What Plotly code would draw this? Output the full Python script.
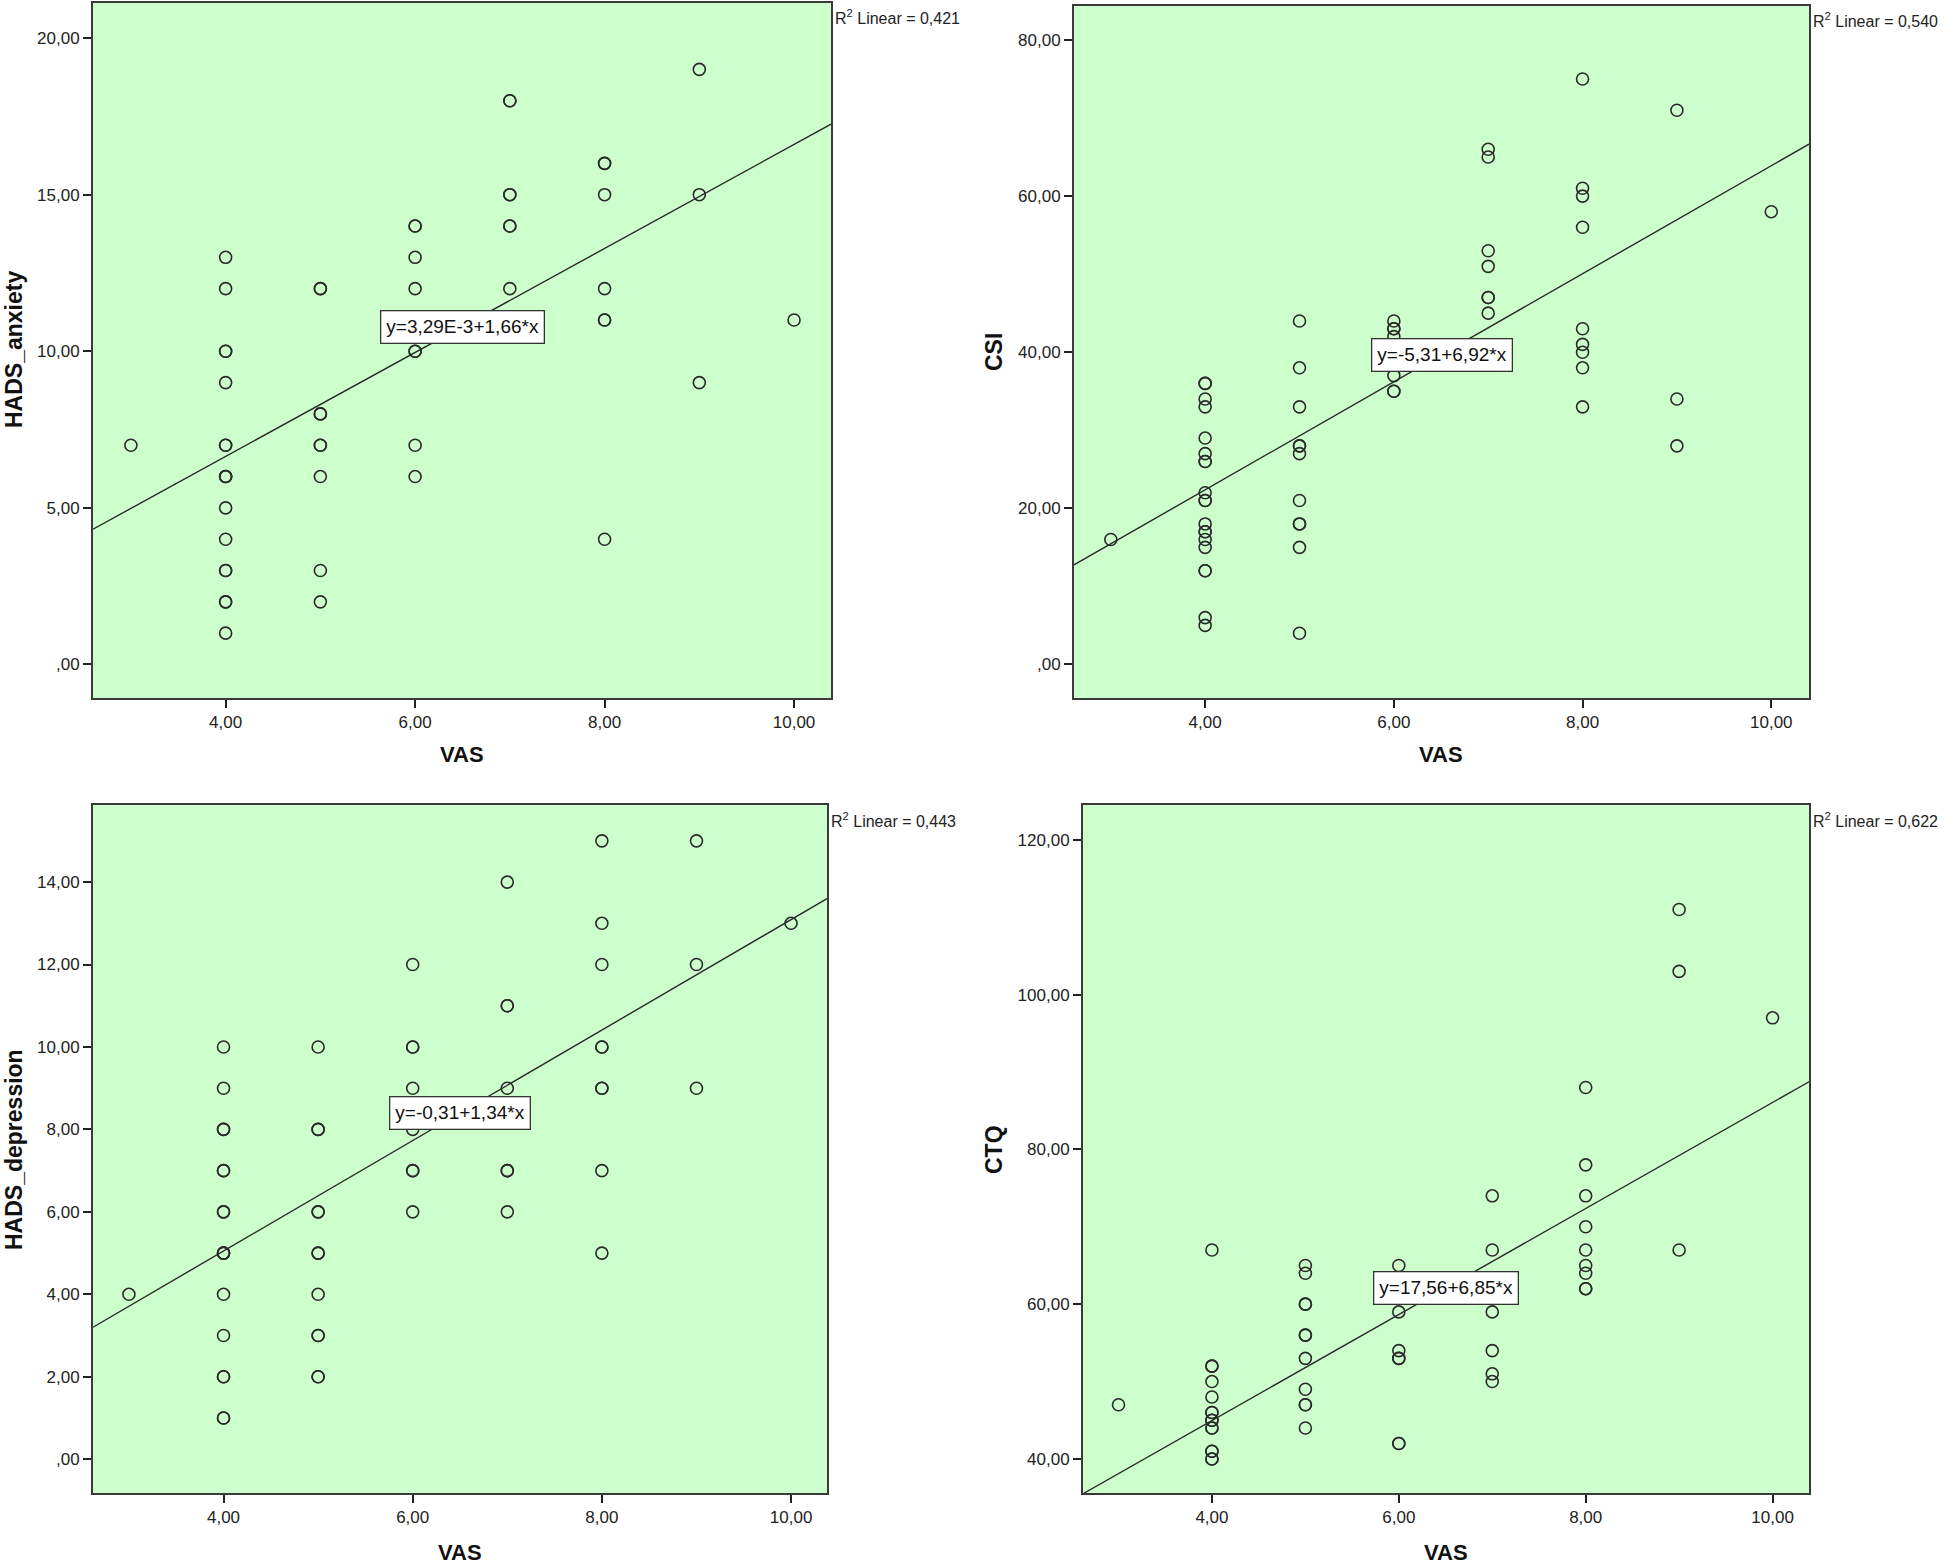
import plotly.graph_objects as go

# ---------------- data ----------------
vas_anx = [3,
           4, 4, 4, 4, 4, 4, 4, 4, 4, 4, 4, 4, 4, 4, 4, 4, 4,
           5, 5, 5, 5, 5, 5, 5, 5, 5,
           6, 6, 6, 6, 6, 6, 6, 6,
           7, 7, 7, 7, 7, 7, 7,
           8, 8, 8, 8, 8, 8, 8,
           9, 9, 9,
           10]
hads_anxiety = [7,
                13, 12, 10, 10, 9, 7, 7, 6, 6, 6, 5, 4, 3, 3, 2, 2, 1,
                12, 12, 8, 8, 7, 7, 6, 3, 2,
                14, 14, 13, 12, 10, 10, 7, 6,
                18, 18, 15, 15, 14, 14, 12,
                16, 16, 15, 12, 11, 11, 4,
                19, 15, 9,
                11]

vas_csi = [3,
           4, 4, 4, 4, 4, 4, 4, 4, 4, 4, 4, 4, 4, 4, 4, 4, 4, 4, 4, 4,
           5, 5, 5, 5, 5, 5, 5, 5, 5, 5, 5,
           6, 6, 6, 6, 6, 6, 6,
           7, 7, 7, 7, 7, 7, 7,
           8, 8, 8, 8, 8, 8, 8, 8, 8,
           9, 9, 9,
           10]
csi = [16,
       36, 36, 34, 33, 29, 27, 26, 26, 22, 21, 21, 18, 17, 17, 16, 15, 12, 12, 6, 5,
       44, 38, 33, 28, 28, 27, 21, 18, 18, 15, 4,
       44, 43, 43, 42, 37, 35, 35,
       66, 65, 53, 51, 47, 47, 45,
       75, 61, 60, 56, 43, 41, 40, 38, 33,
       71, 34, 28,
       58]

vas_dep = [3,
           4, 4, 4, 4, 4, 4, 4, 4, 4, 4, 4, 4, 4, 4, 4, 4, 4,
           5, 5, 5, 5, 5, 5, 5, 5, 5, 5, 5, 5,
           6, 6, 6, 6, 6, 6, 6, 6,
           7, 7, 7, 7, 7, 7, 7,
           8, 8, 8, 8, 8, 8, 8, 8, 8,
           9, 9, 9,
           10]
hads_depression = [4,
                   10, 9, 8, 8, 7, 7, 6, 6, 5, 5, 5, 4, 3, 2, 2, 1, 1,
                   10, 8, 8, 6, 6, 5, 5, 4, 3, 3, 2, 2,
                   12, 10, 10, 9, 8, 7, 7, 6,
                   14, 11, 11, 9, 7, 7, 6,
                   15, 13, 12, 10, 10, 9, 9, 7, 5,
                   15, 12, 9,
                   13]

vas_ctq = [3,
           4, 4, 4, 4, 4, 4, 4, 4, 4, 4, 4, 4, 4, 4, 4,
           5, 5, 5, 5, 5, 5, 5, 5, 5, 5, 5,
           6, 6, 6, 6, 6, 6, 6,
           7, 7, 7, 7, 7, 7,
           8, 8, 8, 8, 8, 8, 8, 8, 8,
           9, 9, 9,
           10]
ctq = [47,
       67, 52, 52, 50, 48, 46, 46, 45, 45, 44, 44, 41, 41, 40, 40,
       65, 64, 60, 60, 56, 56, 53, 49, 47, 47, 44,
       65, 59, 54, 53, 53, 42, 42,
       74, 67, 59, 54, 51, 50,
       88, 78, 74, 70, 67, 65, 64, 62, 62,
       111, 103, 67,
       97]

# regression results as printed on the chart
intercepts = [3.29e-3, -5.31, -0.31, 17.56]
slopes = [1.66, 6.92, 1.34, 6.85]
equation_labels = ["y=3,29E-3+1,66*x", "y=-5,31+6,92*x", "y=-0,31+1,34*x", "y=17,56+6,85*x"]
r2_labels = ["0,421", "0,540", "0,443", "0,622"]
y_titles = ["HADS_anxiety", "CSI", "HADS_depression", "CTQ"]
x_title = "VAS"

x_tickvals = [4, 6, 8, 10]
x_ticktext = ["4,00", "6,00", "8,00", "10,00"]
y_tickvals = [[0, 5, 10, 15, 20],
              [0, 20, 40, 60, 80],
              [0, 2, 4, 6, 8, 10, 12, 14],
              [40, 60, 80, 100, 120]]
y_ticktext = [[",00", "5,00", "10,00", "15,00", "20,00"],
              [",00", "20,00", "40,00", "60,00", "80,00"],
              [",00", "2,00", "4,00", "6,00", "8,00", "10,00", "12,00", "14,00"],
              ["40,00", "60,00", "80,00", "100,00", "120,00"]]

xs = [vas_anx, vas_csi, vas_dep, vas_ctq]
ys = [hads_anxiety, csi, hads_depression, ctq]

# ---------------- layout (pixel geometry) ----------------
W, H = 1946, 1565
x_ranges = [[2.60, 10.39], [2.61, 10.40], [2.62, 10.38], [2.62, 10.39]]
y_ranges = [[-1.07, 21.12], [-4.3, 84.35], [-0.82, 15.87], [35.6, 124.5]]
# plot boxes in pixels: left, right, top, bottom
boxes = [(93, 831, 3, 698), (1074, 1809, 6, 698),
         (93, 827, 805, 1493), (1083, 1809, 805, 1493)]
x_title_pos = [(462, 755), (1441, 754), (460, 1552), (1446, 1552)]
y_title_pos = [(14, 350), (994, 352), (14, 1150), (994, 1150)]
r2_pos_y = [17, 20, 820, 820]

FAM = "Liberation Sans, Arial"
TICK_FONT = dict(family=FAM, size=17, color="#222222")
BG = "#CCFFCC"
DARK = "#2a2a2a"

fig = go.Figure()
annotations = []

for i in range(4):
    n = "" if i == 0 else str(i + 1)
    xa, ya = "x" + n, "y" + n
    l, r, t, b = boxes[i]
    fig.add_trace(go.Scatter(
        x=xs[i], y=ys[i], mode="markers", xaxis=xa, yaxis=ya,
        marker=dict(symbol="circle-open", size=12, color=DARK, line=dict(width=1.6, color=DARK)),
        showlegend=False, hoverinfo="x+y"))
    x0, x1 = x_ranges[i]
    fig.add_trace(go.Scatter(
        x=[x0, x1], y=[intercepts[i] + slopes[i] * x0, intercepts[i] + slopes[i] * x1],
        mode="lines", xaxis=xa, yaxis=ya, line=dict(color=DARK, width=1.4),
        showlegend=False, hoverinfo="skip"))

    axis_common = dict(showline=True, linecolor="#3a3a3a", linewidth=2, mirror=True,
                       ticks="outside", ticklen=8, tickwidth=1.5, tickcolor="#222222",
                       showgrid=False, zeroline=False, tickfont=TICK_FONT)
    fig.update_layout(**{
        ("xaxis" + n): dict(domain=[l / W, r / W], range=x_ranges[i], anchor=ya,
                             tickvals=x_tickvals, ticktext=x_ticktext, **axis_common),
        ("yaxis" + n): dict(domain=[1 - b / H, 1 - t / H], range=y_ranges[i], anchor=xa,
                             tickvals=y_tickvals[i], ticktext=y_ticktext[i], **axis_common),
    })
    fig.add_shape(type="rect", xref=xa + " domain", yref=ya + " domain",
                  x0=0, x1=1, y0=0, y1=1, fillcolor=BG, line=dict(width=0), layer="below")

    # regression equation box at the middle of the x range
    xm = (x0 + x1) / 2
    annotations.append(dict(
        x=xm, y=intercepts[i] + slopes[i] * xm, xref=xa, yref=ya, text=equation_labels[i],
        showarrow=False, bgcolor="white", bordercolor="#333333", borderwidth=1.3, borderpad=5,
        xanchor="center", yanchor="middle",
        font=dict(family=FAM, size=19, color="#111111")))
    # R^2 label
    annotations.append(dict(
        x=r / W, y=1 - r2_pos_y[i] / H, xref="paper", yref="paper", xanchor="left", yanchor="middle",
        xshift=2, text="R<sup>2</sup> Linear = " + r2_labels[i], showarrow=False,
        font=dict(family=FAM, size=16, color="#222222")))
    # axis titles
    annotations.append(dict(
        x=x_title_pos[i][0] / W, y=1 - x_title_pos[i][1] / H, xref="paper", yref="paper",
        xanchor="center", yanchor="middle",
        text="<b>" + x_title + "</b>", showarrow=False, font=dict(family=FAM, size=22, color="#111111")))
    annotations.append(dict(
        x=y_title_pos[i][0] / W, y=1 - y_title_pos[i][1] / H, xref="paper", yref="paper",
        xanchor="center", yanchor="middle",
        text="<b>" + y_titles[i] + "</b>", textangle=-90, showarrow=False,
        font=dict(family=FAM, size=23, color="#111111")))

fig.update_layout(width=W, height=H, margin=dict(l=0, r=0, t=0, b=0),
                  paper_bgcolor="white", plot_bgcolor="rgba(0,0,0,0)",
                  annotations=annotations, showlegend=False)

fig.write_html("out.html", config={"displayModeBar": False},
               post_script="document.body.style.margin='0px';")
